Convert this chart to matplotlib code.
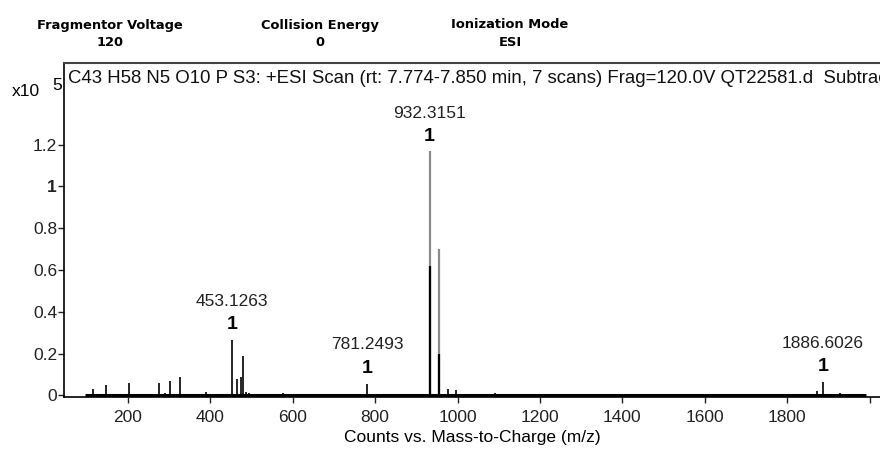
import matplotlib
matplotlib.use('Agg')
import matplotlib.pyplot as plt

# spectrum sticks (m/z, counts x10^5)
mz = [115, 146, 202, 276, 290, 301, 327, 390, 453.1263, 465, 475, 479, 487, 493,
      577, 781.2493, 932.3151, 954, 977, 995, 1040, 1090, 1871, 1886.6026, 1928]
counts = [0.03, 0.05, 0.058, 0.058, 0.012, 0.067, 0.086, 0.014, 0.265, 0.08, 0.086, 0.186, 0.015, 0.01,
          0.01, 0.056, 1.17, 0.70, 0.03, 0.025, 0.008, 0.01, 0.02, 0.063, 0.01]
# lower dark part of the two big peaks
big_mz = [932.3151, 954]
big_dark = [0.62, 0.20]

labelled = [453.1263, 781.2493, 932.3151, 1886.6026]
scan_start, scan_end = 96, 1990

header_names = ['Fragmentor Voltage', 'Collision Energy', 'Ionization Mode']
header_values = ['120', '0', 'ESI']

title = ('C43 H58 N5 O10 P S3: +ESI Scan (rt: 7.774-7.850 min, 7 scans) '
         'Frag=120.0V QT22581.d  Subtract')

plt.rcParams['font.family'] = ['Liberation Sans', 'DejaVu Sans']

fig = plt.figure(figsize=(8.8, 4.51), dpi=100)
ax = fig.add_axes([64/880, 1 - 397/451, (880 - 64)/880, (397 - 63)/451])

ax.plot([scan_start, scan_end], [0, 0], color='black', lw=2.2, solid_capstyle='butt')
for x, y in zip(mz, counts):
    if x in big_mz:
        ax.vlines(x, 0, y, color='#8a8a8a', lw=1.6)
    else:
        ax.vlines(x, 0, y, color='black', lw=1.2)
ax.vlines(big_mz, 0, big_dark, color='black', lw=1.6)

for x in labelled:
    y = counts[mz.index(x)]
    off1 = 10 if y > 1 else 11
    off2 = 27 if y > 1 else 28
    ax.annotate('1', (x, y), xytext=(0, off1), textcoords='offset points',
                ha='center', va='center', fontsize=14, fontweight='bold')
    ax.annotate('%.4f' % x, (x, y), xytext=(0, off2), textcoords='offset points',
                ha='center', va='center', fontsize=12.5, color='#222222')

ax.set_xlim(45, 2025)
ax.set_ylim(-0.008, 1.59)
ax.set_xticks([200, 400, 600, 800, 1000, 1200, 1400, 1600, 1800, 2000])
ax.set_xticklabels(['200', '400', '600', '800', '1000', '1200', '1400', '1600', '1800', ''])
ax.set_yticks([0, 0.2, 0.4, 0.6, 0.8, 1.0, 1.2])
ax.set_yticklabels(['0', '0.2', '0.4', '0.6', '0.8', '1', '1.2'])
ax.get_yticklabels()[5].set_fontweight('bold')
ax.get_yticklabels()[5].set_fontsize(14)
ax.tick_params(labelsize=12.5, length=4, width=1, colors='#222222', pad=1)
ax.tick_params(axis='x', pad=5)
ax.spines['right'].set_visible(False)
ax.spines['top'].set_linewidth(1.5)
ax.spines['top'].set_color('#444444')
for s in ['left', 'bottom']:
    ax.spines[s].set_linewidth(1.2)

ax.text(0.005, 0.955, title, transform=ax.transAxes, fontsize=13.4, va='center',
        ha='left', clip_on=True, color='#111111')
ax.set_xlabel('Counts vs. Mass-to-Charge (m/z)', fontsize=12.5, labelpad=4)

fig.text(12/880, 1 - 92/451, 'x10', fontsize=12.5, va='center', ha='left')
fig.text(52/880, 1 - 86/451, '5', fontsize=12.5, va='center', ha='left')

for cx, name, val in zip([110, 320, 510], header_names, header_values):
    fig.text(cx/880, 1 - 25/451, name, fontsize=9.4, fontweight='bold',
             ha='center', va='center', family='DejaVu Sans')
    fig.text(cx/880, 1 - 42/451, val, fontsize=9.4, fontweight='bold',
             ha='center', va='center', family='DejaVu Sans')

fig.savefig('out.png', dpi=100)
